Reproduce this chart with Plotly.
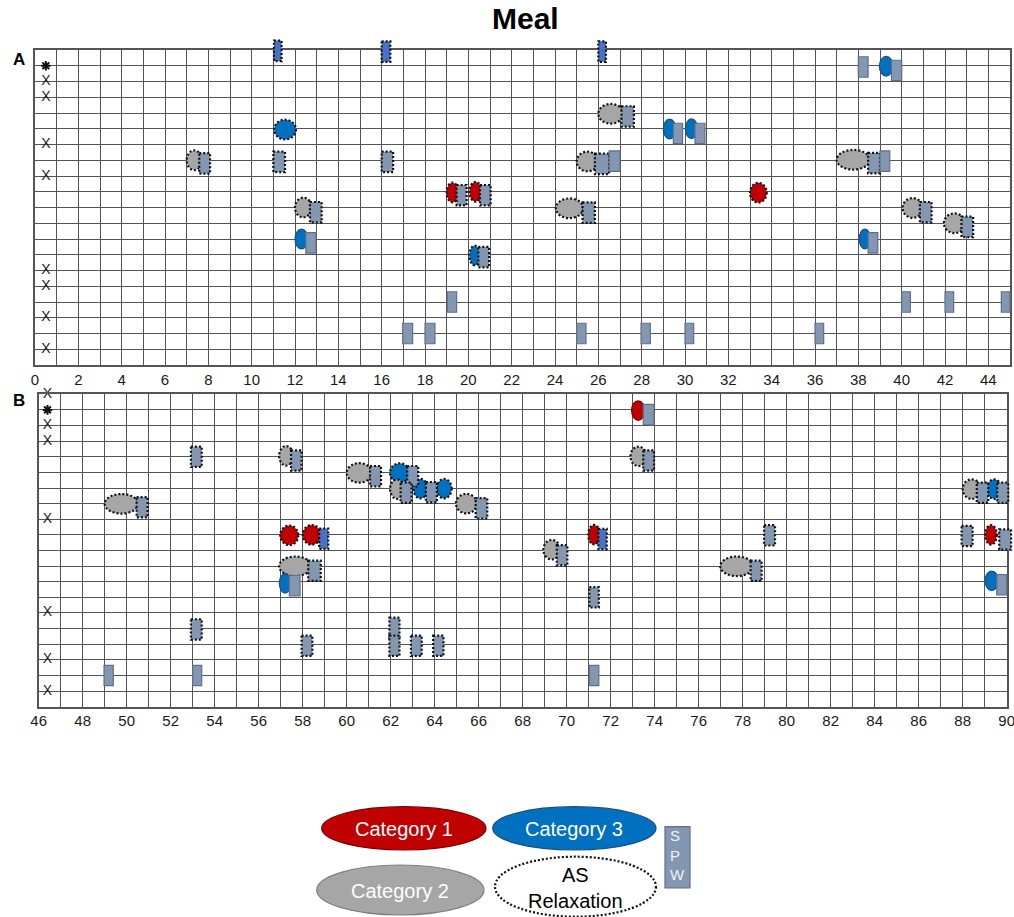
import plotly.graph_objects as go

W, H = 1014, 917

# ---------------- data ----------------
# Panel A (0-45): meal episodes -> start, end, row, category, AS relaxation
a_ep_start = [11.04, 7.00, 12.00, 12.00, 26.00, 25.00, 19.00, 20.05, 24.04, 38.97,
              29.00, 30.02, 37.00, 33.00, 40.04, 41.95, 38.04, 20.05]
a_ep_end = [12.04, 7.70, 12.77, 12.60, 27.15, 26.00, 19.54, 20.62, 25.30, 39.60,
            29.58, 30.58, 38.53, 33.77, 40.98, 42.92, 38.56, 20.54]
a_ep_row = [5.05, 7.00, 10.00, 12.00, 4.05, 7.08, 9.05, 9.00, 10.05, 1.03,
            5.02, 5.00, 6.97, 9.06, 10.03, 11.00, 12.00, 13.05]
a_ep_cat = [3, 2, 2, 3, 2, 2, 1, 1, 2, 3, 3, 3, 2, 1, 2, 2, 3, 3]
a_ep_relax = [1, 1, 1, 0, 1, 1, 1, 1, 1, 0, 0, 0, 1, 1, 1, 1, 0, 1]

# Panel A: SPW intervals -> start, end, row, AS relaxation, variant
a_spw_start = [11.03, 16.00, 26.00, 38.00, 39.53, 27.07, 29.46, 30.46, 11.00, 7.58,
               16.00, 25.84, 26.50, 38.45, 39.00, 19.46, 20.54, 12.69, 25.27, 40.84,
               42.76, 12.50, 38.45, 20.46, 19.03, 40.00, 42.00, 44.60, 16.97, 18.00,
               25.00, 27.97, 30.00, 36.00]
a_spw_end = [11.38, 16.40, 26.35, 38.45, 40.00, 27.64, 29.89, 30.92, 11.54, 8.08,
             16.53, 26.50, 27.00, 39.00, 39.45, 19.92, 21.03, 13.23, 25.84, 41.38,
             43.30, 12.97, 38.90, 20.96, 19.46, 40.40, 42.40, 45.00, 17.43, 18.46,
             25.43, 28.40, 30.40, 36.40]
a_spw_row = [0.05, 0.10, 0.10, 1.08, 1.30, 4.22, 5.30, 5.30, 7.10, 7.20,
             7.10, 7.23, 7.05, 7.18, 7.05, 9.22, 9.22, 10.30, 10.32, 10.30,
             11.23, 12.25, 12.25, 13.15, 16.00, 16.00, 16.00, 16.00, 18.00, 18.00,
             18.00, 18.00, 18.00, 18.00]
a_spw_relax = [1, 1, 1, 0, 0, 1, 0, 0, 1, 1,
               1, 1, 0, 1, 0, 1, 1, 1, 1, 1,
               1, 0, 0, 1, 0, 0, 0, 0, 0, 0,
               0, 0, 0, 0]
a_spw_kind = ["b", "b", "b"] + ["g"] * 31

# Panel A: row markers in the first column
a_cross_rows = [2, 3, 6, 8, 14, 15, 17, 19]
a_star_rows = [1]

# Panel B (46-90)
b_ep_start = [72.95, 56.93, 72.90, 60.00, 61.97, 61.97, 63.03, 64.09, 88.00, 89.09,
              49.00, 64.97, 56.98, 58.00, 70.98, 89.02, 68.94, 56.93, 76.98, 56.94,
              89.02]
b_ep_end = [73.55, 57.57, 73.63, 61.14, 62.85, 62.61, 63.67, 64.77, 88.82, 89.77,
            50.52, 65.91, 57.80, 58.82, 71.51, 89.55, 69.70, 58.40, 78.49, 57.46,
            89.62]
b_ep_row = [1.04, 3.94, 3.97, 5.03, 5.04, 6.07, 6.04, 6.04, 6.07, 6.07,
            7.01, 7.00, 9.03, 9.00, 8.99, 9.00, 9.95, 11.01, 11.01, 12.10,
            11.94]
b_ep_cat = [1, 2, 2, 2, 3, 2, 3, 3, 2, 3, 2, 2, 1, 1, 1, 1, 2, 2, 2, 3, 3]
b_ep_relax = [0, 1, 1, 1, 1, 1, 1, 1, 1, 1, 1, 1, 1, 1, 1, 1, 1, 1, 1, 0, 0]

b_spw_start = [73.48, 52.92, 57.47, 73.48, 61.06, 62.75, 62.45, 63.60, 88.64, 89.57,
               50.45, 65.86, 58.75, 71.44, 78.97, 87.95, 89.66, 69.55, 58.25, 78.36,
               57.39, 89.55, 71.03, 52.92, 61.94, 61.94, 57.95, 62.92, 63.93, 48.97,
               53.00, 71.03]
b_spw_end = [73.97, 53.41, 57.95, 73.97, 61.56, 63.25, 62.95, 64.10, 89.16, 90.07,
             50.95, 66.39, 59.16, 71.82, 79.47, 88.45, 90.20, 70.03, 58.82, 78.86,
             57.88, 90.00, 71.46, 53.41, 62.40, 62.40, 58.44, 63.41, 64.40, 49.39,
             53.41, 71.46]
b_spw_row = [1.30, 4.00, 4.24, 4.24, 5.24, 5.24, 6.30, 6.27, 6.30, 6.30,
             7.23, 7.30, 9.24, 9.27, 9.03, 9.07, 9.30, 10.30, 11.30, 11.30,
             12.25, 12.20, 13.00, 15.05, 14.95, 16.10, 16.10, 16.10, 16.10, 18.00,
             18.00, 18.00]
b_spw_relax = [0, 1, 1, 1, 1, 1, 1, 1, 1, 1,
               1, 1, 1, 1, 1, 1, 1, 1, 1, 1,
               0, 0, 1, 1, 1, 1, 1, 1, 1, 0,
               0, 0]
b_spw_kind = ["g"] * 12 + ["b", "b"] + ["g"] * 18

b_cross_rows = [0, 2, 3, 8, 14, 17, 19]
b_star_rows = [1]

a_ticks = list(range(0, 45, 2))
b_ticks = list(range(46, 91, 2))
n_rows = 20

legend_labels = ["Category 1", "Category 3", "Category 2", "AS<br>Relaxation"]

# ---------------- styles ----------------
CAT_FILL = {1: "#C00000", 2: "#A6A6A6", 3: "#0070C0"}
CAT_EDGE = {1: "#7F0000", 2: "#7F7F7F", 3: "#1F4E79"}
SPW_FILL = {"g": "#8497B0", "b": "#4A72C4"}
SPW_EDGE = "#5F6F8C"
DOT = dict(color="#111111", width=2.2, dash="2px,2px")
GRID = "#555555"
FONT = "Arial, Liberation Sans, sans-serif"
EP_H = 1.25   # ellipse height in rows
SPW_H = 1.3   # SPW box height in rows

# panel placement (paper fractions)
A_dx = [35 / W, 1010 / W]
A_dy = [1 - 365 / H, 1 - 50 / H]
B_dx = [38.7 / W, 1006.7 / W]
B_dy = [1 - 706.7 / H, 1 - 394.3 / H]


def widen(dom, rng, lo_px, hi_px, size):
    """Larger domain with the same units-per-pixel, so marks can spill past the frame."""
    per = (rng[1] - rng[0]) / (dom[1] - dom[0])
    lo, hi = lo_px / size, hi_px / size
    return [dom[0] - lo, dom[1] + hi], [rng[0] - lo * per, rng[1] + hi * per]


fig = go.Figure()


def grid_axes(xname, yname, dx, dy, xr, ticks):
    xa = dict(domain=dx, range=xr, anchor=yname, tickmode="array", tickvals=ticks,
              ticktext=[str(t) for t in ticks], showgrid=True, gridcolor=GRID, gridwidth=1,
              minor=dict(dtick=1, tick0=xr[0], showgrid=True, gridcolor=GRID, gridwidth=1),
              zeroline=False, showline=True, mirror=True, linecolor=GRID, linewidth=1.5,
              ticks="", tickfont=dict(family=FONT, size=15, color="#1a1a1a"),
              automargin=False, ticklabeloverflow="allow", fixedrange=True)
    ya = dict(domain=dy, range=[n_rows, 0], anchor=xname, dtick=1, tick0=0, showgrid=True,
              gridcolor=GRID, gridwidth=1, zeroline=False, showline=True, mirror=True,
              linecolor=GRID, linewidth=1.5, showticklabels=False, ticks="",
              automargin=False, fixedrange=True)
    return xa, ya


xa1, ya1 = grid_axes("x", "y", A_dx, A_dy, [0, 45], a_ticks)
xa2, ya2 = grid_axes("x2", "y2", B_dx, B_dy, [46, 90], b_ticks)

# overlay axes used by the episode shapes (same scale, larger clip box)
A3x_d, A3x_r = widen(A_dx, [0, 45], 20, 4, W)
A3y_d, A3y_r = widen(A_dy, [n_rows, 0], 20, 20, H)
B4x_d, B4x_r = widen(B_dx, [46, 90], 20, 7, W)
B4y_d, B4y_r = widen(B_dy, [n_rows, 0], 20, 20, H)
hid = dict(visible=False, fixedrange=True, automargin=False)

fig.update_layout(
    xaxis=xa1, yaxis=ya1, xaxis2=xa2, yaxis2=ya2,
    xaxis3=dict(domain=A3x_d, range=A3x_r, anchor="y3", **hid),
    yaxis3=dict(domain=A3y_d, range=A3y_r, anchor="x3", **hid),
    xaxis4=dict(domain=B4x_d, range=B4x_r, anchor="y4", **hid),
    yaxis4=dict(domain=B4y_d, range=B4y_r, anchor="x4", **hid),
)

for xr_, yr_ in [("x3", "y3"), ("x4", "y4")]:
    fig.add_trace(go.Scatter(x=[None], y=[None], xaxis=xr_, yaxis=yr_,
                             hoverinfo="skip", showlegend=False))

# first-column row markers: crosses and asterisks
for xa, ya, x0, crosses, stars in [("x", "y", 0.5, a_cross_rows, a_star_rows),
                                    ("x2", "y2", 46.4, b_cross_rows, b_star_rows)]:
    fig.add_trace(go.Scatter(
        x=[x0] * len(crosses), y=crosses, xaxis=xa, yaxis=ya, mode="text",
        text=["X"] * len(crosses), textfont=dict(family=FONT, size=14, color="#222222"),
        textposition="middle center", cliponaxis=False, hoverinfo="skip", showlegend=False))
    fig.add_trace(go.Scatter(
        x=[x0] * len(stars), y=stars, xaxis=xa, yaxis=ya, mode="markers",
        marker=dict(symbol="asterisk-open", size=8, color="#111111",
                    line=dict(color="#111111", width=2)),
        cliponaxis=False, hoverinfo="skip", showlegend=False))

shapes = []


def add_panel(xr_, yr_, e0, e1, er, ec, erx, s0, s1, sr, srx, sk):
    for a, b, r, c, rx in zip(e0, e1, er, ec, erx):
        line = DOT if rx else dict(color=CAT_EDGE[c], width=1.2)
        shapes.append(dict(type="circle", xref=xr_, yref=yr_, x0=a, x1=b,
                           y0=r - EP_H / 2, y1=r + EP_H / 2, fillcolor=CAT_FILL[c], line=line))
    for a, b, r, rx, k in zip(s0, s1, sr, srx, sk):
        line = DOT if rx else dict(color=SPW_EDGE, width=1.2)
        shapes.append(dict(type="rect", xref=xr_, yref=yr_, x0=a, x1=b,
                           y0=r - SPW_H / 2, y1=r + SPW_H / 2, fillcolor=SPW_FILL[k], line=line))


add_panel("x3", "y3", a_ep_start, a_ep_end, a_ep_row, a_ep_cat, a_ep_relax,
          a_spw_start, a_spw_end, a_spw_row, a_spw_relax, a_spw_kind)
add_panel("x4", "y4", b_ep_start, b_ep_end, b_ep_row, b_ep_cat, b_ep_relax,
          b_spw_start, b_spw_end, b_spw_row, b_spw_relax, b_spw_kind)


# ---------------- key ----------------
def pxx(v):
    return v / W


def pxy(v):
    return 1 - v / H


def note(x, y, text, size, color, bold=False, **kw):
    fig.add_annotation(x=pxx(x), y=pxy(y), xref="paper", yref="paper",
                       text=f"<b>{text}</b>" if bold else text, showarrow=False,
                       xanchor=kw.pop("xanchor", "center"), yanchor="middle",
                       font=dict(family=FONT, size=size, color=color), **kw)


key_boxes = [  # x0, x1, y0, y1 in pixels
    (321.7, 486, 806.7, 850),
    (492.7, 656, 806.7, 850),
    (316.7, 484, 865, 915),
    (495, 656, 856.7, 916.7),
]
key_fill = [CAT_FILL[1], CAT_FILL[3], CAT_FILL[2], "white"]
key_line = [dict(color=CAT_EDGE[1], width=1.2), dict(color=CAT_EDGE[3], width=1.2),
            dict(color=CAT_EDGE[2], width=1.2), DOT]
key_color = ["white", "white", "white", "black"]
for (x0, x1, y0, y1), fc, ln, lab, tc in zip(key_boxes, key_fill, key_line, legend_labels, key_color):
    shapes.append(dict(type="circle", xref="paper", yref="paper", x0=pxx(x0), x1=pxx(x1),
                       y0=pxy(y1), y1=pxy(y0), fillcolor=fc, line=ln, layer="above"))
    note((x0 + x1) / 2, (y0 + y1) / 2 + 1, lab, 20, tc)
shapes.append(dict(type="rect", xref="paper", yref="paper", x0=pxx(665), x1=pxx(690),
                   y0=pxy(888), y1=pxy(826.7), fillcolor=SPW_FILL["g"],
                   line=dict(color=SPW_EDGE, width=1.2)))
note(668, 855, "S<br>P<br>W", 15, "#EEF2F8", xanchor="left", align="left")

# titles
note(525, 19, "Meal", 30, "black", bold=True)
note(19, 59, "A", 17, "black", bold=True)
note(19, 401, "B", 17, "black", bold=True)

fig.update_layout(shapes=shapes, width=W, height=H, margin=dict(l=0, r=0, t=0, b=0),
                  paper_bgcolor="white", plot_bgcolor="rgba(0,0,0,0)", showlegend=False)

fig.write_html("out.html")
